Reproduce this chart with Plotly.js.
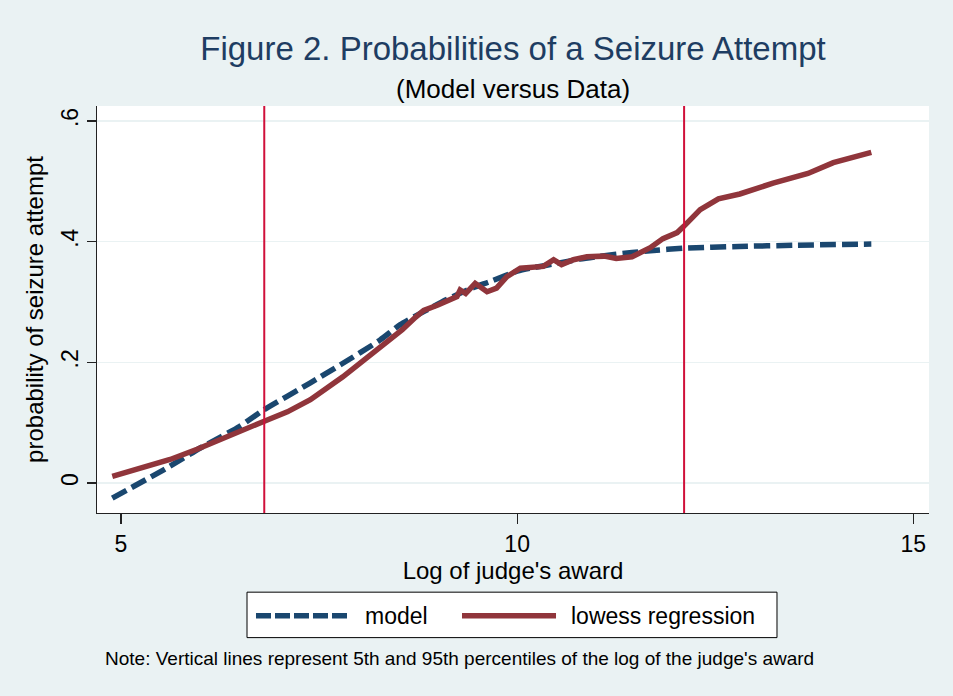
<!DOCTYPE html>
<html>
<head>
<meta charset="utf-8">
<script src="https://cdn.plot.ly/plotly-3.0.1.min.js"></script>
<style>html,body{margin:0;padding:0;background:#eaf2f3;}#chart{width:953px;height:696px;}</style>
</head>
<body>
<div id="chart"></div>
<script>
// ---- data ----
var modelX = [4.89, 5.58, 6.0, 6.5, 6.8, 7.39, 7.77, 8.27, 8.52, 8.82, 9.11, 9.41, 9.66, 10.0, 10.16, 10.55, 10.79, 11.05, 11.45, 11.68, 12.1, 12.8, 13.5, 14.47];
var modelY = [-0.025, 0.025, 0.058, 0.094, 0.121, 0.166, 0.196, 0.237, 0.262, 0.284, 0.304, 0.322, 0.334, 0.351, 0.356, 0.365, 0.371, 0.376, 0.382, 0.385, 0.389, 0.392, 0.394, 0.396];

var lowessX = [4.89, 5.62, 5.96, 6.38, 6.8, 7.1, 7.39, 7.8, 8.27, 8.55, 8.72, 8.82, 9.0, 9.12, 9.24, 9.28, 9.35, 9.47, 9.55, 9.62, 9.74, 9.87, 10.04, 10.2, 10.33, 10.46, 10.56, 10.71, 10.88, 11.1, 11.25, 11.45, 11.68, 11.84, 12.02, 12.1, 12.31, 12.54, 12.81, 13.23, 13.67, 13.99, 14.47];
var lowessY = [0.011, 0.039, 0.056, 0.080, 0.102, 0.118, 0.138, 0.176, 0.224, 0.254, 0.275, 0.286, 0.295, 0.301, 0.309, 0.320, 0.314, 0.331, 0.322, 0.317, 0.323, 0.342, 0.356, 0.357, 0.359, 0.370, 0.362, 0.370, 0.375, 0.376, 0.372, 0.375, 0.390, 0.405, 0.415, 0.425, 0.453, 0.471, 0.479, 0.497, 0.513, 0.531, 0.548];

var percentileLines = [6.808, 12.107];   // 5th and 95th percentiles
var xTickVals = [5, 10, 15];
var xTickText = ["5", "10", "15"];
var yTickVals = [0, 0.2, 0.4, 0.6];
var yTickText = ["0", ".2", ".4", ".6"];
var seriesNames = ["model", "lowess regression"];

// ---- styles ----
var NAVY = "#1a476f", MAROON = "#90353b", RED = "#d0103a", BG = "#eaf2f3";
var FONT = "Liberation Sans, Arial, sans-serif";

var traces = [
  {x: modelX, y: modelY, mode: "lines", name: seriesNames[0], showlegend: false,
   line: {color: NAVY, width: 5.5, dash: "16px,6px", shape: "spline", smoothing: 0.6}},
  {x: lowessX, y: lowessY, mode: "lines", name: seriesNames[1], showlegend: false,
   line: {color: MAROON, width: 5.5}}
];

var shapes = percentileLines.map(function (v) {
  return {type: "line", xref: "x", yref: "paper", x0: v, x1: v, y0: 0, y1: 1,
          line: {color: RED, width: 2}, layer: "above"};
});
// legend box
shapes.push({type: "rect", xref: "paper", yref: "paper", x0: 0.1803, x1: 0.8173, y0: -0.3062, y1: -0.1945,
             fillcolor: "#ffffff", line: {color: "#000000", width: 1}});
shapes.push({type: "line", xref: "paper", yref: "paper", x0: 0.1911, x1: 0.3041, y0: -0.2522, y1: -0.2522,
             line: {color: NAVY, width: 5.5, dash: "15px,4px"}});
shapes.push({type: "line", xref: "paper", yref: "paper", x0: 0.4387, x1: 0.5517, y0: -0.2522, y1: -0.2522,
             line: {color: MAROON, width: 5.5}});

var annotations = [
  {text: "(Model versus Data)", xref: "paper", yref: "paper", x: 0.5, y: 1.0417, xanchor: "center", yanchor: "middle",
   showarrow: false, font: {family: FONT, size: 26, color: "#000000"}},
  {text: seriesNames[0], xref: "paper", yref: "paper", x: 0.3197, y: -0.2522, xanchor: "left", yanchor: "middle",
   showarrow: false, font: {family: FONT, size: 23, color: "#000000"}},
  {text: seriesNames[1], xref: "paper", yref: "paper", x: 0.5673, y: -0.2522, xanchor: "left", yanchor: "middle",
   showarrow: false, font: {family: FONT, size: 23, color: "#000000"}},
  {text: "Note: Vertical lines represent 5th and 95th percentiles of the log of the judge's award",
   xref: "paper", yref: "paper", x: 0.0072, y: -0.3577, xanchor: "left", yanchor: "middle",
   showarrow: false, font: {family: FONT, size: 19, color: "#000000"}}
];

var layout = {
  width: 953, height: 696,
  paper_bgcolor: BG, plot_bgcolor: "#ffffff",
  margin: {l: 97, r: 24, t: 106, b: 183, pad: 0},
  font: {family: FONT, color: "#000000"},
  title: {text: "Figure 2. Probabilities of a Seizure Attempt", x: 0.5, xref: "paper", xanchor: "center",
          y: 1 - 48 / 696, yref: "container", yanchor: "middle",
          font: {family: FONT, size: 33, color: "#1e3d62"}},
  showlegend: false,
  xaxis: {range: [4.697, 15.198], tickvals: xTickVals, ticktext: xTickText, ticks: "outside", ticklen: 10,
          tickcolor: "#222", tickwidth: 1.2, showgrid: false, zeroline: false,
          showline: true, linecolor: "#222", linewidth: 1.3, mirror: false,
          tickfont: {family: FONT, size: 23, color: "#000"},
          title: {text: "Log of judge's award", font: {family: FONT, size: 24, color: "#000"}, standoff: 6},
          automargin: false, fixedrange: true},
  yaxis: {range: [-0.0497, 0.6248], tickvals: yTickVals, ticktext: yTickText, ticks: "outside", ticklen: 9,
          tickcolor: "#222", tickwidth: 1.2, tickangle: -90,
          showgrid: true, gridcolor: BG, gridwidth: 1.5, zeroline: false,
          showline: true, linecolor: "#222", linewidth: 1.3,
          tickfont: {family: FONT, size: 23, color: "#000"},
          title: {text: "probability of seizure attempt", font: {family: FONT, size: 24, color: "#000"}, standoff: 6},
          automargin: false, fixedrange: true},
  shapes: shapes,
  annotations: annotations
};

Plotly.newPlot("chart", traces, layout, {displayModeBar: false, staticPlot: true});
</script>
</body>
</html>
